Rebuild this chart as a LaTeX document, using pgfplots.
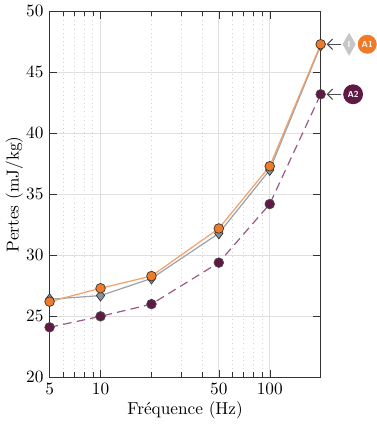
\documentclass[border=0pt]{standalone}
\usepackage{pgfplots}
\pgfplotsset{compat=1.18}
\usetikzlibrary{shapes.geometric,arrows.meta}
\definecolor{orA}{HTML}{F07A28}
\definecolor{orL}{HTML}{F2A06A}
\definecolor{grI}{HTML}{8A9299}
\definecolor{grL}{HTML}{9AA2AA}
\definecolor{puA}{HTML}{5E1A45}
\definecolor{puL}{HTML}{9A5A88}
\begin{document}
\begin{tikzpicture}
\begin{axis}[
  scale only axis, width=157pt, height=212pt,
  xmode=log, xmin=5, xmax=200, ymin=20, ymax=50,
  xtick={5,10,50,100}, xticklabels={5,10,50,100},
  minor xtick={6,7,8,9,20,30,40,60,70,80,90},
  ytick={20,25,...,50},
  grid=both,
  major grid style={gray!25, line width=0.5pt},
  minor grid style={gray!35, dotted},
  axis line style={line width=0.8pt, black!80},
  tick style={black!80},
  xlabel={Fréquence (Hz)}, ylabel={Pertes (mJ/kg)},
  xlabel style={yshift=3pt},
  ylabel style={yshift=-5pt},
  clip=false,
]
\addplot[puL, dashed, dash pattern=on 5pt off 3pt, line width=0.7pt, mark=*, mark size=2.8pt,
  mark options={solid, fill=puA, draw=black!70, line width=0.4pt}]
  coordinates {(5,24.1)(10,25.0)(20,26.0)(50,29.4)(100,34.2)(200,43.2)};
\addplot[grL, line width=0.7pt, mark=diamond*, mark size=3.2pt,
  mark options={fill=grI, draw=black!80, line width=0.4pt}]
  coordinates {(5,26.4)(10,26.7)(20,28.1)(50,31.8)(100,37.0)(200,47.2)};
\addplot[orL, line width=0.7pt, mark=*, mark size=2.8pt,
  mark options={fill=orA, draw=black!80, line width=0.4pt}]
  coordinates {(5,26.2)(10,27.3)(20,28.3)(50,32.2)(100,37.3)(200,47.3)};
% annotations
\draw[-{Straight Barb[length=3pt]}, black!70, line width=0.6pt] ([xshift=12pt]axis cs:200,47.3) -- ([xshift=3.5pt]axis cs:200,47.3);
\node[diamond, fill=gray!45, minimum width=7.8pt, minimum height=13.5pt, inner sep=0pt, text=white, font=\sffamily\bfseries\tiny] at ([xshift=16.5pt]axis cs:200,47.3) {I};
\node[circle, fill=orA, minimum size=11pt, inner sep=0pt, text=white, font=\sffamily\bfseries\tiny] at ([xshift=27pt]axis cs:200,47.3) {A1};
\draw[-{Straight Barb[length=3pt]}, black!70, line width=0.6pt] ([xshift=12pt]axis cs:200,43.2) -- ([xshift=3.5pt]axis cs:200,43.2);
\node[circle, fill=puA, minimum size=11.5pt, inner sep=0pt, text=white, font=\sffamily\bfseries\tiny] at ([xshift=18.8pt]axis cs:200,43.2) {A2};
\end{axis}
\end{tikzpicture}
\end{document}
